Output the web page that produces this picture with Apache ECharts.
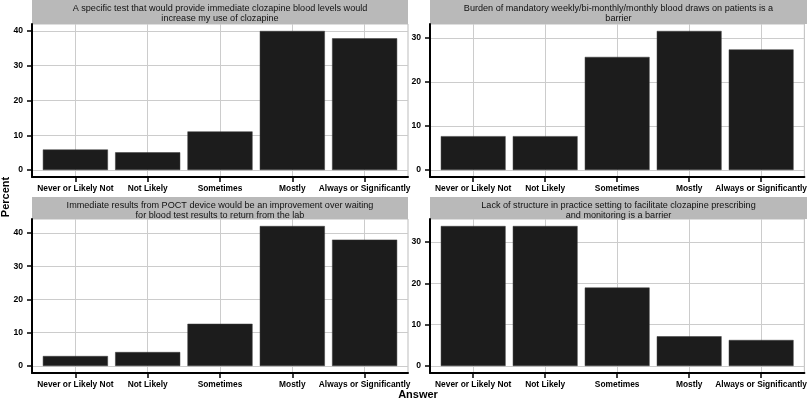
<!DOCTYPE html>
<html>
<head>
<meta charset="utf-8">
<script src="https://cdn.jsdelivr.net/npm/echarts@6/dist/echarts.min.js"></script>
<style>html,body{margin:0;padding:0;background:#fff}#c{width:810px;height:401px}</style>
</head>
<body>
<div id="c"></div>
<script>
const categories = ['Never or Likely Not', 'Not Likely', 'Sometimes', 'Mostly', 'Always or Significantly'];
const panelTitles = [
  'A specific test that would provide immediate clozapine blood levels would\nincrease my use of clozapine',
  'Burden of mandatory weekly/bi-monthly/monthly blood draws on patients is a\nbarrier',
  'Immediate results from POCT device would be an improvement over waiting\nfor blood test results to return from the lab',
  'Lack of structure in practice setting to facilitate clozapine prescribing\nand monitoring is a barrier'
];
const panel1Values = [5.9, 5.1, 11.1, 40.0, 37.9];
const panel2Values = [7.7, 7.7, 25.7, 31.6, 27.4];
const panel3Values = [3.0, 4.2, 12.7, 42.1, 38.0];
const panel4Values = [33.9, 33.9, 19.0, 7.2, 6.3];
const panel1Ticks = [0, 10, 20, 30, 40];
const panel2Ticks = [0, 10, 20, 30];
const panel3Ticks = [0, 10, 20, 30, 40];
const panel4Ticks = [0, 10, 20, 30];
const yTitle = 'Percent';
const xTitle = 'Answer';

const panels = [
  {values: panel1Values, ticks: panel1Ticks, title: panelTitles[0]},
  {values: panel2Values, ticks: panel2Ticks, title: panelTitles[1]},
  {values: panel3Values, ticks: panel3Ticks, title: panelTitles[2]},
  {values: panel4Values, ticks: panel4Ticks, title: panelTitles[3]}
];
const layout = [
  {left: 32, top: 24, width: 376, height: 153, stripTop: 0, stripH: 24, textY: 13},
  {left: 430, top: 24, width: 377, height: 153, stripTop: 0, stripH: 24, textY: 13},
  {left: 32, top: 219, width: 376, height: 154, stripTop: 197, stripH: 22, textY: 210},
  {left: 430, top: 219, width: 377, height: 154, stripTop: 197, stripH: 22, textY: 210}
];
const FONT = 'Liberation Sans, Arial, Helvetica, sans-serif';
const catPos = categories.map((c, i) => i + 1);

const grids = [], xAxes = [], yAxes = [], series = [], graphics = [];
panels.forEach((p, k) => {
  const L = layout[k];
  const maxV = Math.max.apply(null, p.values);
  grids.push({left: L.left, top: L.top, width: L.width, height: L.height, show: true,
    borderColor: '#bdbdbd', borderWidth: 1, backgroundColor: '#fff'});
  xAxes.push({
    gridIndex: k, type: 'value', min: 0.4, max: 5.6,
    axisLine: {show: true, onZero: false, lineStyle: {color: '#000', width: 2}},
    axisTick: {show: true, length: 5, customValues: catPos, lineStyle: {color: '#000', width: 1.5}},
    axisLabel: {show: true, customValues: catPos, margin: 8, fontFamily: FONT, fontSize: 8.4, fontWeight: 'bold', color: '#000',
      formatter: v => categories[Math.round(v) - 1] || ''},
    splitLine: {show: true, lineStyle: {color: '#cccccc', width: 1}}
  });
  yAxes.push({
    gridIndex: k, type: 'value', min: -0.05 * maxV, max: 1.05 * maxV,
    axisLine: {show: true, onZero: false, lineStyle: {color: '#000', width: 2}},
    axisTick: {show: true, length: 5, customValues: p.ticks, lineStyle: {color: '#000', width: 1.5}},
    axisLabel: {show: true, customValues: p.ticks, margin: 9, fontFamily: FONT, fontSize: 8.6, fontWeight: 'bold', color: '#000'},
    splitLine: {show: true, lineStyle: {color: '#cccccc', width: 1}}
  });
  series.push({
    type: 'bar', xAxisIndex: k, yAxisIndex: k, barWidth: '90%',
    data: p.values.map((v, i) => [catPos[i], v]),
    itemStyle: {color: '#1c1c1c', borderColor: '#3a3a3a', borderWidth: 0.5},
    silent: true, animation: false
  });
  graphics.push({type: 'rect', left: L.left, top: L.stripTop,
    shape: {width: L.width, height: L.stripH}, style: {fill: '#b9b9b9'}});
  graphics.push({type: 'text', x: L.left + L.width / 2, y: L.textY,
    style: {text: p.title, fontFamily: FONT, fontSize: 9.1, lineHeight: 10, fill: '#111',
      align: 'center', verticalAlign: 'middle'}});
});
graphics.push({type: 'text', x: 6, y: 197, rotation: Math.PI / 2,
  style: {text: yTitle, fontFamily: FONT, fontSize: 11, fontWeight: 'bold', fill: '#000', align: 'center', verticalAlign: 'middle'}});
graphics.push({type: 'text', x: 418, y: 395,
  style: {text: xTitle, fontFamily: FONT, fontSize: 11, fontWeight: 'bold', fill: '#000', align: 'center', verticalAlign: 'middle'}});

const chart = echarts.init(document.getElementById('c'), null, {renderer: 'canvas'});
chart.setOption({
  animation: false,
  grid: grids, xAxis: xAxes, yAxis: yAxes, series: series,
  graphic: graphics
});
</script>
</body>
</html>
